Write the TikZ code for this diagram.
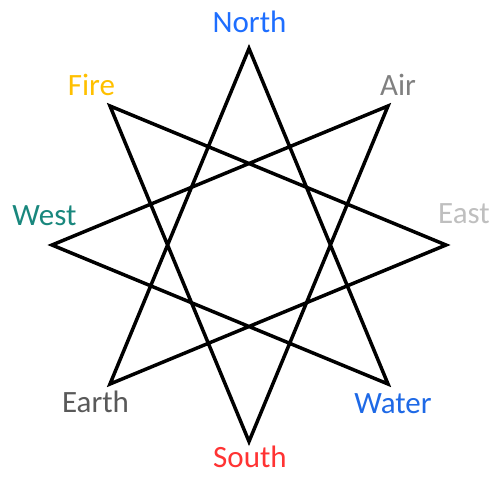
\documentclass[tikz,border=0pt]{standalone}
\usepackage{fontspec}
\setmainfont{Carlito}
\usepackage{tikz}

\definecolor{northblue}{RGB}{30,110,255}
\definecolor{waterblue}{RGB}{30,105,230}
\definecolor{fireyellow}{RGB}{255,192,0}
\definecolor{airgray}{RGB}{128,128,128}
\definecolor{eastgray}{RGB}{191,191,191}
\definecolor{westteal}{RGB}{25,135,125}
\definecolor{earthgray}{RGB}{89,89,89}
\definecolor{southred}{RGB}{255,51,51}

\begin{document}
\begin{tikzpicture}[x=1pt,y=-1pt,
	lbl/.style={font=\fontsize{31}{31}\selectfont,anchor=base,inner sep=0pt}]

	\useasboundingbox (0,0) rectangle (500,479);

	\coordinate (n)  at (249,48.5);
	\coordinate (ai) at (388,106);
	\coordinate (e)  at (446,245);
	\coordinate (wa) at (388,384);
	\coordinate (s)  at (249,441.5);
	\coordinate (ea) at (110,384);
	\coordinate (w)  at (52,245);
	\coordinate (fi) at (110,106);

	\node[lbl,text=northblue]  (ln)  at (249.5,32) {North};
	\node[lbl,text=airgray]    (lai) at (398,95)   {Air};
	\node[lbl,text=eastgray]   (le)  at (464,223)  {East};
	\node[lbl,text=waterblue]  (lwa) at (393,413)  {Water};
	\node[lbl,text=southred]   (ls)  at (250,467)  {South};
	\node[lbl,text=earthgray]  (lea) at (95.5,412) {Earth};
	\node[lbl,text=westteal]   (lw)  at (44.5,225) {West};
	\node[lbl,text=fireyellow] (lfi) at (91.5,95)  {Fire};

	\draw[line width=3.5pt] (n) -- (wa) -- (w) -- (ai) -- (s) -- (fi) -- (e) -- (ea) -- cycle;

\end{tikzpicture}
\end{document}
